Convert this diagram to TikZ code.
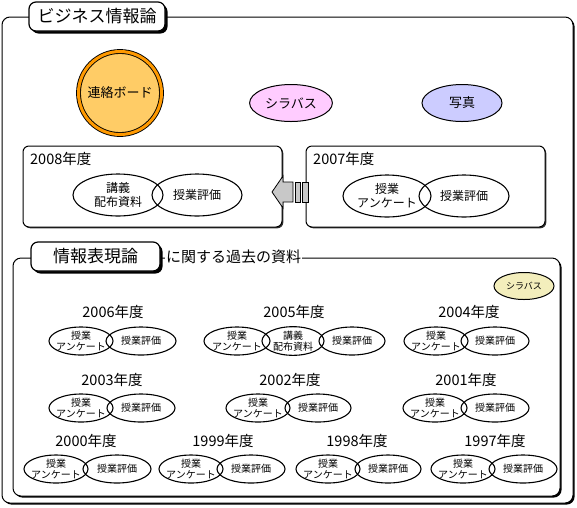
\documentclass[tikz,border=0pt]{standalone}
\usepackage{fontspec}
\setmainfont{Noto Sans CJK JP}
\usetikzlibrary{shapes.geometric}
\usetikzlibrary{shadows}
\definecolor{boardfill}{HTML}{FFCC66}
\definecolor{boardring}{HTML}{FF9900}
\definecolor{sylpink}{HTML}{FFCCFF}
\definecolor{photoblue}{HTML}{CCCCFF}
\definecolor{sylyellow}{HTML}{F3EEBC}
\definecolor{arrowgray}{HTML}{C8C8C8}
\newcommand{\fs}[2]{\fontsize{#1}{#2}\selectfont}
\tikzstyle{frame}=[draw,line width=1pt,rounded corners=8,fill=white,inner sep=0,drop shadow={shadow xshift=1.6pt,shadow yshift=-1.6pt,fill=black,opacity=1}]
\tikzstyle{yearbox}=[draw,line width=1pt,rounded corners=6,fill=white,inner sep=0,drop shadow={shadow xshift=1.3pt,shadow yshift=-1.3pt,fill=black!80,opacity=1}]
\tikzstyle{titlebox}=[draw,line width=1.2pt,rounded corners=7,fill=white,minimum height=29,inner sep=0,font=\fs{17}{20},drop shadow={shadow xshift=2.5pt,shadow yshift=-2.5pt,fill=black,opacity=1}]
\tikzstyle{bigitem}=[ellipse,draw,line width=1.1pt,minimum width=90,minimum height=42,inner sep=0,inner xsep=-4,align=center,font=\fs{12}{14}]
\tikzstyle{smallitem}=[ellipse,draw,line width=1.1pt,minimum width=66,minimum height=28,inner sep=0,inner xsep=-7,align=center,font=\fs{10}{11}]
\tikzstyle{yearlabel}=[inner sep=0,font=\fs{14.5}{16}]

\begin{document}
\begin{tikzpicture}[x=1pt,y=-1pt]
\useasboundingbox (0,0) rectangle (577,507);

% outer frame
\node[frame,minimum width=571,minimum height=486] (outer) at (287.5,260) {};
\node[titlebox,minimum width=136] (title) at (97,16.5) {ビジネス情報論};

\node[circle,draw=black,line width=0.9pt,double=boardring,double distance=3pt,fill=boardfill,minimum size=83,inner sep=0,font=\fs{13}{15}] (board) at (120,93) {連絡ボード};
\node[ellipse,draw,line width=1pt,fill=sylpink,minimum width=82,minimum height=37,font=\fs{13}{15}] (syl) at (291,103) {シラバス};
\node[ellipse,draw,line width=1pt,fill=photoblue,minimum width=80,minimum height=37,font=\fs{13}{15}] (photo) at (462,103) {写真};

% 2008 / 2007
\node[yearbox,minimum width=259,minimum height=81] (box2008) at (152.5,186.5) {};
\node[yearlabel,anchor=west] (y2008) at (30,159) {2008年度};
\node[bigitem] (a2008) at (118,195) {講義\\配布資料};
\node[bigitem] (b2008) at (197,195) {授業評価};

\node[yearbox,minimum width=239,minimum height=81] (box2007) at (425.5,186.5) {};
\node[yearlabel,anchor=west] (y2007) at (313,159) {2007年度};
\node[bigitem,minimum width=88] (a2007) at (387,196) {授業\\アンケート};
\node[bigitem] (b2007) at (464,196) {授業評価};

\draw[fill=arrowgray,line width=0.8pt] (272,192) -- (283,176) -- (283,182) -- (293,182) -- (293,202) -- (283,202) -- (283,208) -- cycle;
\draw[fill=arrowgray,line width=0.8pt] (295,182) rectangle (300,202);
\draw[fill=arrowgray,line width=0.8pt] (302,182) rectangle (308,202);

% past materials
\node[frame,minimum width=547,minimum height=238] (past) at (286.5,377) {};
\node[titlebox,minimum width=129] (title2) at (95.5,256.5) {情報表現論};
\node[anchor=west,fill=white,inner sep=1,font=\fs{15}{17}] (pastlabel) at (165,257) {に関する過去の資料};
\node[ellipse,draw,line width=1pt,fill=sylyellow,minimum width=60,minimum height=27,inner sep=0,font=\fs{9}{10}] (syl2) at (524,286) {シラバス};

\node[yearlabel] (y2006) at (113,312) {2006年度};
\node[smallitem,minimum width=64] (a2006) at (81,341) {授業\\アンケート};
\node[smallitem,minimum width=70] (b2006) at (141,341) {授業評価};

\node[yearlabel] (y2005) at (294,312) {2005年度};
\node[smallitem] (a2005) at (237,341) {授業\\アンケート};
\node[smallitem,minimum width=62] (c2005) at (293,341) {講義\\配布資料};
\node[smallitem] (b2005) at (352,341) {授業評価};

\node[yearlabel] (y2004) at (469,312) {2004年度};
\node[smallitem,minimum width=64] (a2004) at (436,341) {授業\\アンケート};
\node[smallitem,minimum width=68] (b2004) at (495,341) {授業評価};

\node[yearlabel] (y2003) at (112,380) {2003年度};
\node[smallitem,minimum width=64] (a2003) at (81,408) {授業\\アンケート};
\node[smallitem,minimum width=68] (b2003) at (141,408) {授業評価};

\node[yearlabel] (y2002) at (290,380) {2002年度};
\node[smallitem,minimum width=64] (a2002) at (258,408) {授業\\アンケート};
\node[smallitem] (b2002) at (318,408) {授業評価};

\node[yearlabel] (y2001) at (466,380) {2001年度};
\node[smallitem,minimum width=64] (a2001) at (435,408) {授業\\アンケート};
\node[smallitem,minimum width=68] (b2001) at (495,408) {授業評価};

\node[yearlabel] (y2000) at (86,441) {2000年度};
\node[smallitem,minimum width=64] (a2000) at (56,469) {授業\\アンケート};
\node[smallitem,minimum width=68] (b2000) at (117,469) {授業評価};

\node[yearlabel] (y1999) at (223,441) {1999年度};
\node[smallitem,minimum width=64] (a1999) at (191,469) {授業\\アンケート};
\node[smallitem,minimum width=68] (b1999) at (251,469) {授業評価};

\node[yearlabel] (y1998) at (357,441) {1998年度};
\node[smallitem,minimum width=64] (a1998) at (328,469) {授業\\アンケート};
\node[smallitem,minimum width=66] (b1998) at (388,469) {授業評価};

\node[yearlabel] (y1997) at (495,441) {1997年度};
\node[smallitem,minimum width=64] (a1997) at (463,469) {授業\\アンケート};
\node[smallitem,minimum width=68] (b1997) at (523,469) {授業評価};
\end{tikzpicture}
\end{document}
